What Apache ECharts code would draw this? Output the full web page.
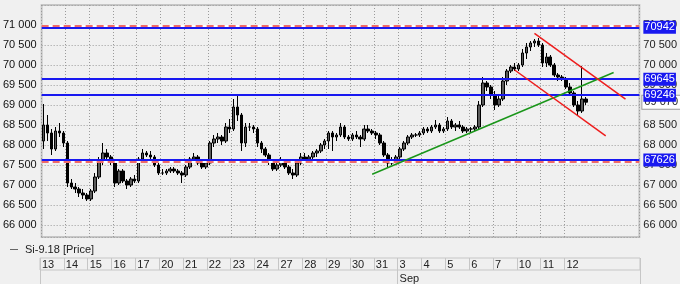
<!DOCTYPE html>
<html><head><meta charset="utf-8">
<script src="https://cdn.jsdelivr.net/npm/echarts@6/dist/echarts.min.js"></script>
<style>html,body{margin:0;padding:0;background:#f0f0f0}#c{width:680px;height:284px}</style>
</head><body><div id="c"></div>
<script>
const dayLabels = ['13','14','15','16','17','20','21','22','23','24','27','28','29','30','31','3','4','5','6','7','10','11','12'];
const monthLabel = 'Sep';
const monthDayIndex = 15;
const barsPerDay = 6;
const totalSlots = 151;
const seriesName = 'Si-9.18 [Price]';

const opens = [68100,68500,68300,67900,68350,68300, 68050,67050,66950,66900,66800,66750, 66650,66850,67200,67600,67800,67700, 67600,67050,67350,67100,67000,67150, 67100,67650,67800,67750,67700,67500, 67300,67300,67350,67400,67350,67300, 67250,67450,67650,67700,67550,67450, 67550,68050,68150,68200,68100,68450, 68400,68950,68750,68050,68450,68450, 68400,68050,67900,67750,67600,67400, 67500,67600,67450,67300,67250,67550, 67700,67650,67700,67800,67850,68000, 68100,68300,68200,68250,68450,68200, 68150,68250,68200,68150,68400,68350, 68300,68250,68050,67750,67550,67600, 67700,67900,68050,68200,68250,68250, 68300,68400,68350,68450,68500,68350, 68400,68600,68450,68500,68450,68350, 68400,68400,68450,69000,69550,69450, 69250,69000,69150,69600,69850,69950, 69900,70000,70300,70450,70550,70600, 70500,70050,70200,70000,69750,69700, 69650,69450,69300,69000,68850,69150];
const highs = [69025,68750,68400,68450,68550,68350, 68100,67150,67050,66950,66900,66800, 66900,67300,67700,68050,67900,67750, 67650,67400,67400,67150,67200,67250, 67700,67900,67850,67850,67750,67550, 67400,67400,67450,67450,67400,67350, 67500,67700,67800,67750,67600,67600, 68100,68250,68300,68250,68550,68650, 69150,69225,68800,68550,68550,68500, 68450,68100,67950,67800,67650,67600, 67700,67650,67500,67400,67650,67800, 67800,67750,67850,67900,68050,68150, 68350,68350,68300,68550,68500,68250, 68300,68350,68250,68500,68500,68400, 68350,68300,68100,67800,67700,67750, 67950,68100,68250,68300,68300,68350, 68450,68450,68500,68625,68550,68450, 68700,68650,68550,68600,68500,68450, 68450,68500,69100,69700,69600,69500, 69350,69250,69700,69900,70000,70050, 70050,70400,70550,70600,70650,70675, 70550,70300,70250,70050,69800,69750, 69700,69550,69350,69100,69975,69200];
const lows = [67900,68100,67750,67850,68200,67950, 66950,66900,66800,66700,66650,66600, 66600,66800,67150,67500,67550,67500, 66950,67000,67050,66900,66950,67050, 67050,67600,67700,67650,67450,67250, 67250,67250,67300,67300,67250,67050, 67200,67400,67550,67500,67400,67400, 67500,67950,68050,68000,68050,68300, 68350,68600,67850,67950,68350,68300, 67950,67800,67700,67500,67350,67350, 67450,67400,67250,67150,67200,67500, 67550,67550,67650,67700,67800,67900, 67900,67850,68100,68200,68150,68100, 68100,68150,67950,68100,68300,68250, 68150,68000,67700,67450,67500,67550, 67650,67850,68000,68150,68200,68200, 68250,68300,68300,68400,68300,68300, 68350,68400,68350,68400,68300,68300, 68300,68350,68400,68950,69350,69150, 68875,68950,69100,69500,69800,69850, 69850,69950,70150,70350,70450,70450, 69950,69950,69950,69700,69600,69600, 69400,69250,68950,68750,68800,69000];
const closes = [68500,68300,67900,68350,68300,68050, 67050,66950,66900,66800,66750,66650, 66850,67200,67600,67800,67700,67600, 67050,67350,67100,67000,67150,67100, 67650,67800,67750,67700,67500,67300, 67300,67350,67400,67350,67300,67250, 67450,67650,67700,67550,67450,67550, 68050,68150,68200,68100,68450,68400, 68950,68750,68050,68450,68450,68400, 68050,67900,67750,67600,67400,67500, 67600,67450,67300,67250,67550,67700, 67650,67700,67800,67850,68000,68100, 68300,68200,68250,68450,68200,68150, 68250,68200,68150,68400,68350,68300, 68250,68050,67750,67550,67600,67700, 67900,68050,68200,68250,68250,68300, 68400,68350,68450,68500,68350,68400, 68600,68450,68500,68450,68350,68400, 68400,68450,69000,69550,69450,69250, 69000,69150,69600,69850,69950,69900, 70000,70300,70450,70550,70600,70500, 70050,70200,70000,69750,69700,69650, 69450,69300,69000,68850,69150,69070];

const levelValues = [70942, 69645, 69246, 67626];
const dashedLevels = [70988, 67582];
const lastPrice = 69070;
// trend lines: [slotIndex, value] pairs
const greenLine = [[83, 67268], [144, 69812]];
const redUpper = [[124, 70792], [147, 69148]];
const redLower = [[119, 69875], [142, 68227]];

const slots = Array.from({length: totalSlots}, (_, i) => 's' + i);
const candles = opens.map((o, i) => [o, closes[i], lows[i], highs[i]]);
const lastDaySlot = (dayLabels.length - 1) * barsPerDay;

function fmtPriceAny(v) { return Math.floor(v / 1000) + ' ' + String(v % 1000).padStart(3, '0'); }
function fmtPrice(v) {
  if (v % 500 !== 0 || v < 66000 || v > 71000) return '';
  return fmtPriceAny(v);
}
const isDayStart = (i) => i % barsPerDay === 0 && i <= lastDaySlot;

const blue = '#1818f0';
const markData = [];
markData.push({yAxis: lastPrice, lineStyle: {color: 'rgba(0,0,0,0)', width: 0},
  label: {show: true, position: 'end', distance: 3, formatter: fmtPriceAny(lastPrice), color: '#222',
    backgroundColor: '#ffffff', borderColor: '#999', borderWidth: 1, fontSize: 11, padding: [1, 3, 0, 2], lineHeight: 12}});
dashedLevels.forEach(v => {
  markData.push({yAxis: v, lineStyle: {color: '#ffffff', width: 2, type: 'solid'}, label: {show: false}});
  markData.push({yAxis: v, lineStyle: {color: '#f06a6a', width: 2, type: [7, 4]}, label: {show: false}});
});
levelValues.forEach(v => {
  markData.push({yAxis: v, lineStyle: {color: blue, width: 2, type: 'solid'},
    label: {show: true, position: 'end', distance: 4, formatter: String(v), color: '#fff',
      backgroundColor: blue, fontSize: 11, padding: [1, 1, 0, 1], lineHeight: 12}});
});
function seg(pts, color) {
  return [{coord: [slots[pts[0][0]], pts[0][1]], lineStyle: {color: color, width: 1.5, type: 'solid'}, label: {show: false}},
          {coord: [slots[pts[1][0]], pts[1][1]]}];
}
markData.push(seg(greenLine, '#1a961a'));
markData.push(seg(redUpper, '#ee1c1c'));
markData.push(seg(redLower, '#ee1c1c'));

const chart = echarts.init(document.getElementById('c'), null, {renderer: 'canvas'});
chart.setOption({
  animation: false,
  backgroundColor: '#f0f0f0',
  textStyle: {fontFamily: 'Liberation Sans, Arial, sans-serif'},
  legend: {
    left: 10, top: 244, padding: 0, itemWidth: 8, itemHeight: 1, itemGap: 5, icon: 'rect',
    data: [{name: seriesName, itemStyle: {color: '#666', borderWidth: 0}}],
    textStyle: {fontSize: 11, color: '#222', padding: [0, 0, 0, 2]}
  },
  grid: [
    {left: 40, top: 5, width: 600, height: 232, show: true, borderColor: '#c6c6c6', borderWidth: 2, backgroundColor: 'transparent'},
    {left: 40, top: 258, width: 600, height: 12, show: true, borderColor: '#c6c6c6', borderWidth: 1, backgroundColor: 'transparent'}
  ],
  xAxis: [
    {type: 'category', gridIndex: 0, data: slots, boundaryGap: true,
      axisLine: {show: false}, axisTick: {show: false}, axisLabel: {show: false},
      splitLine: {show: true, interval: (i) => isDayStart(i), lineStyle: {color: '#9a9a9a', type: [1, 2], width: 1}}},
    {type: 'category', gridIndex: 1, data: slots, boundaryGap: true, position: 'top',
      axisLine: {show: false}, axisTick: {show: false},
      splitLine: {show: true, interval: (i) => isDayStart(i), lineStyle: {color: '#c6c6c6', width: 1}},
      axisLabel: {show: true, inside: true, interval: 0, margin: 1, align: 'left', verticalAlign: 'top',
        fontSize: 11, color: '#222',
        formatter: (v, i) => isDayStart(i) ? dayLabels[i / barsPerDay] : ''}},
    {type: 'category', gridIndex: 1, data: slots, boundaryGap: true, position: 'bottom',
      axisLine: {show: false},
      axisTick: {show: true, length: 14, interval: (i) => i === monthDayIndex * barsPerDay || i === 0, lineStyle: {color: '#c6c6c6'}},
      axisLabel: {show: true, interval: 0, margin: 3, align: 'left', fontSize: 11, color: '#222',
        formatter: (v, i) => i === monthDayIndex * barsPerDay ? monthLabel : ''}}
  ],
  yAxis: [
    {type: 'value', gridIndex: 0, position: 'left', min: 65700, max: 71500, splitNumber: 11,
      axisLine: {show: false}, axisTick: {show: false},
      axisLabel: {formatter: fmtPrice, color: '#111', fontSize: 11, margin: 5, showMinLabel: false, showMaxLabel: false},
      splitLine: {show: true, lineStyle: {color: '#9a9a9a', type: [1, 2], width: 1}}},
    {type: 'value', gridIndex: 0, position: 'right', min: 65700, max: 71500, splitNumber: 11,
      axisLine: {show: false}, axisTick: {show: false},
      axisLabel: {formatter: fmtPrice, color: '#222', fontSize: 11, margin: 4, showMinLabel: false, showMaxLabel: false},
      splitLine: {show: false}},
    {type: 'value', gridIndex: 1, min: 0, max: 1, show: false}
  ],
  series: [{
    name: seriesName, type: 'candlestick', xAxisIndex: 0, yAxisIndex: 0,
    data: candles, barWidth: '78%',
    itemStyle: {color: '#5a5a5a', color0: '#000000', borderColor: '#000000', borderColor0: '#000000', borderWidth: 1},
    markLine: {symbol: 'none', silent: true, animation: false, data: markData}
  }]
});
</script></body></html>
